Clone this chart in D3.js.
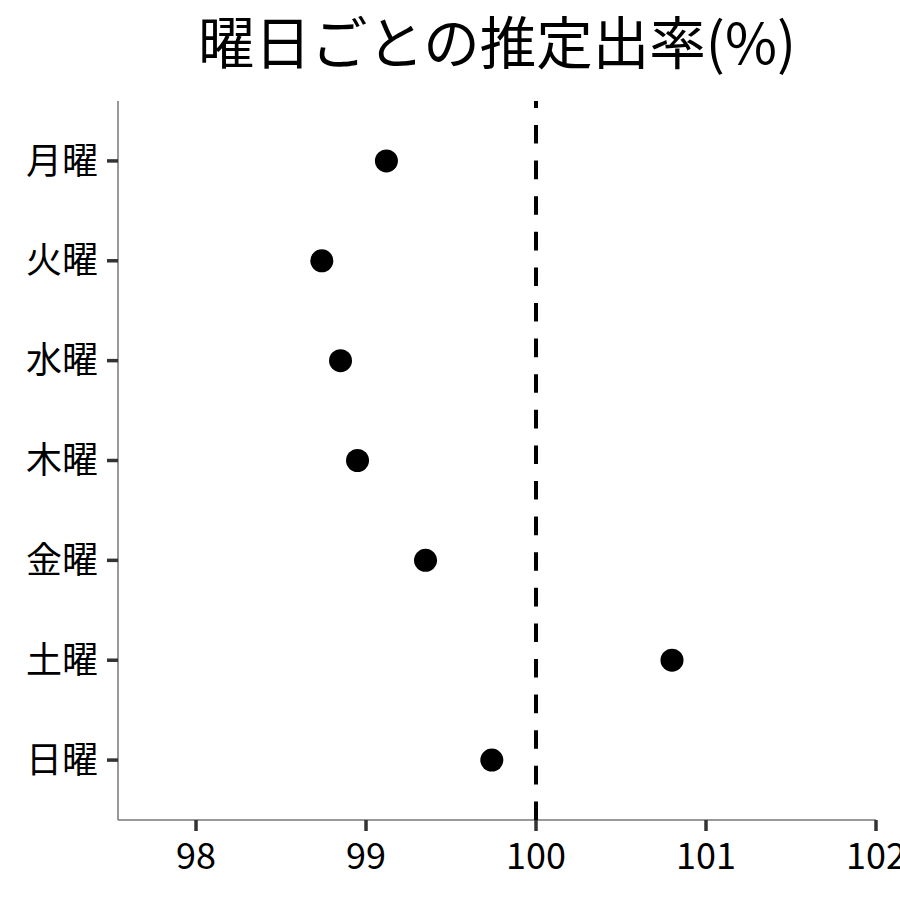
<!DOCTYPE html>
<html><head><meta charset="utf-8">
<script src="https://cdn.jsdelivr.net/npm/d3@7"></script>
<style>body{margin:0;background:#fff}svg{display:block}text{font-family:"Noto Sans CJK JP","Noto Sans",sans-serif}</style>
</head><body>
<svg id="c" width="900" height="900"></svg>
<script>
const days = ["月曜","火曜","水曜","木曜","金曜","土曜","日曜"];
const rates = [99.12, 98.74, 98.85, 98.95, 99.35, 100.80, 99.74];
const xTicks = [98, 99, 100, 101, 102];
const refValue = 100;
const title = "曜日ごとの推定出率(%)";

(function(){
const svg = d3.select("#c");
const pL = 118, pR = 876, pT = 101, pB = 820;
const x = d3.scaleLinear().domain([97.541, 102]).range([pL, pR]);
const y = d3.scalePoint().domain(days).range([pT, pB]).padding(0.6);

svg.append("rect").attr("width",900).attr("height",900).attr("fill","#fff");

// axis lines
svg.append("line").attr("x1",pL).attr("x2",pL).attr("y1",pT).attr("y2",pB).attr("stroke","#777").attr("stroke-width",1.5);
svg.append("line").attr("x1",pL).attr("x2",pR).attr("y1",pB).attr("y2",pB).attr("stroke","#777").attr("stroke-width",1.5);

// y ticks
const yg = svg.append("g");
days.forEach(d=>{
  yg.append("line").attr("x1",pL-11).attr("x2",pL).attr("y1",y(d)).attr("y2",y(d)).attr("stroke","#333").attr("stroke-width",3.5);
  yg.append("text").attr("x",pL-20).attr("y",y(d)).attr("dy","0.35em").attr("text-anchor","end").attr("font-size",36).attr("fill","#000").text(d);
});
// x ticks
const xg = svg.append("g");
xTicks.forEach(t=>{
  xg.append("line").attr("x1",x(t)).attr("x2",x(t)).attr("y1",pB).attr("y2",pB+11).attr("stroke","#333").attr("stroke-width",3.5);
  xg.append("text").attr("x",x(t)).attr("y",pB+49).attr("text-anchor","middle").attr("font-size",36).attr("fill","#000").text(t);
});

// reference line (drawn bottom to top)
svg.append("line").attr("x1",x(refValue)).attr("x2",x(refValue)).attr("y1",pB).attr("y2",pT)
  .attr("stroke","#000").attr("stroke-width",4).attr("stroke-dasharray","18.6,17");

// points
svg.append("g").selectAll("circle").data(days).join("circle")
  .attr("cx",(d,i)=>x(rates[i])).attr("cy",d=>y(d)).attr("r",11.5).attr("fill","#000");

// title
svg.append("text").attr("x",(pL+pR)/2).attr("y",64).attr("text-anchor","middle").attr("font-size",56.5).attr("fill","#000").text(title);
})();
</script>
</body></html>
